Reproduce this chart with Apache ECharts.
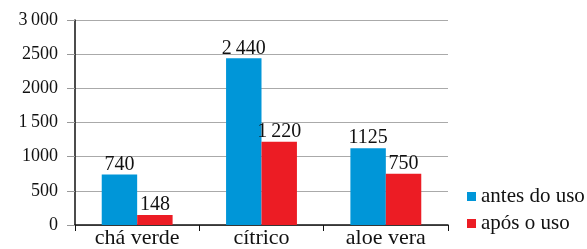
<!DOCTYPE html>
<html><head><meta charset="utf-8">
<script src="https://cdn.jsdelivr.net/npm/echarts@6/dist/echarts.min.js"></script>
<style>html,body{margin:0;padding:0;background:#fff}#c{width:587px;height:249px}</style>
</head><body><div id="c"></div>
<script>
const categories = ['chá verde', 'cítrico', 'aloe vera'];
const antes = [740, 2440, 1125];
const apos = [148, 1220, 750];
const antesLabels = ['740', '2\u2009440', '1125'];
const aposLabels = ['148', '1\u2009220', '750'];
const yTickLabels = {0: '0', 500: '500', 1000: '1000', 1500: '1\u2009500', 2000: '2000', 2500: '2500', 3000: '3\u2009000'};
const seriesNames = ['antes do uso', 'após o uso'];

const font = '"Liberation Serif", serif';
const chart = echarts.init(document.getElementById('c'));
chart.setOption({
  animation: false,
  textStyle: {fontFamily: font},
  grid: {left: 75, right: 139, top: 20, bottom: 20},
  legend: {
    orient: 'vertical', left: 462, top: 181, itemWidth: 9, itemHeight: 9, itemGap: 6,
    icon: 'rect',
    textStyle: {fontFamily: font, fontSize: 21, color: '#111'},
    data: seriesNames
  },
  xAxis: {
    type: 'category', data: categories,
    axisLine: {lineStyle: {color: '#111', width: 1.5}},
    axisTick: {show: true, length: 6, lineStyle: {color: '#111'}},
    axisLabel: {fontFamily: font, fontSize: 22, color: '#111', margin: 2}
  },
  yAxis: {
    type: 'value', min: 0, max: 3000, interval: 500,
    axisLine: {show: true, lineStyle: {color: '#111', width: 1.5}},
    axisTick: {show: true, inside: false, length: 8, lineStyle: {color: '#999'}},
    splitLine: {lineStyle: {color: '#aaa', width: 1}},
    axisLabel: {fontFamily: font, fontSize: 18, color: '#111', margin: 17,
      formatter: v => yTickLabels[v] !== undefined ? yTickLabels[v] : String(v)}
  },
  series: [
    {name: seriesNames[0], type: 'bar', data: antes, barGap: '0%', barCategoryGap: '43%',
     itemStyle: {color: '#0096D8'},
     label: {show: true, position: 'top', distance: 0, fontFamily: font, fontSize: 20, color: '#111',
       formatter: p => antesLabels[p.dataIndex]}},
    {name: seriesNames[1], type: 'bar', data: apos, barGap: '0%', barCategoryGap: '43%',
     itemStyle: {color: '#EC1C24'},
     label: {show: true, position: 'top', distance: 0, fontFamily: font, fontSize: 20, color: '#111',
       formatter: p => aposLabels[p.dataIndex]}}
  ]
});
</script></body></html>
